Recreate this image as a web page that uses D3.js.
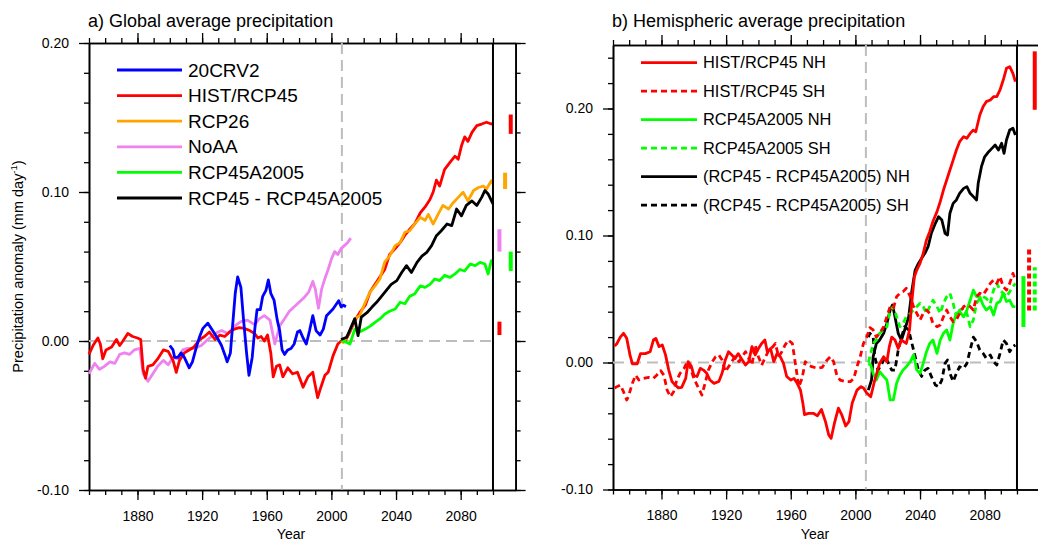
<!DOCTYPE html>
<html>
<head>
<meta charset="utf-8">
<script src="https://cdn.jsdelivr.net/npm/d3@7"></script>
<style>
  body { margin: 0; background: #fff; }
  svg text { font-family: "Liberation Sans", Arial, Helvetica, sans-serif; fill: #000; }
</style>
</head>
<body>
<svg id="chart" width="1038" height="543"></svg>
<script>
// ---- data: [year, anomaly (mm/day)] ----

// panel a) global
let cr20 = [[1900,-0.003],[1902,-0.006],[1903,-0.011],[1905,-0.011],[1907,-0.008],[1909,-0.011],[1912,-0.018],[1914,-0.014],[1916.5,-0.004],[1918.5,0.003],[1920.5,0.0085],[1923.5,0.012],[1926.5,0.007],[1930,0.001],[1932,-0.003],[1934,-0.009],[1935.5,-0.014],[1937.5,-0.008],[1939,0.012],[1940.5,0.032],[1942,0.043],[1944,0.036],[1945.5,0.016],[1947.5,-0.008],[1949,-0.023],[1951,-0.011],[1952.5,0.007],[1954,0.021],[1956,0.021],[1957.5,0.030],[1959.5,0.034],[1961,0.041],[1962.5,0.032],[1964.5,0.0275],[1966.5,0.014],[1968,0.007],[1969.5,-0.006],[1971,-0.009],[1973,-0.006],[1975,-0.005],[1977,-0.002],[1979,0.006],[1980.5,0.007],[1982.5,0.002],[1984.5,-0.002],[1986.5,0.007],[1988.5,0.017],[1990.5,0.007],[1993,0.004],[1995,0.008],[1997,0.017],[2001,0.0215],[2004.5,0.027],[2006,0.023],[2007.5,0.024],[2009,0.023]]

let hist = [[1850,-0.009],[1852.5,-0.003],[1855.5,0.002],[1857,-0.002],[1858.5,-0.012],[1860.5,-0.006],[1864,-0.004],[1867,0.001],[1869,-0.003],[1871,0],[1874,0.005],[1877,0.003],[1880,0.002],[1882,0.001],[1883.5,-0.019],[1885,-0.025],[1886.5,-0.017],[1889.5,-0.016],[1892.5,-0.012],[1896,-0.006],[1899,-0.007],[1902,-0.013],[1904,-0.021],[1906,-0.013],[1909,-0.008],[1912,-0.006],[1915,-0.004],[1918.5,0.001],[1921.5,0.003],[1924.5,0.006],[1928,0.001],[1931,0.004],[1934,0.003],[1937,0.006],[1940,0.008],[1943,0.009],[1946,0.0085],[1949.5,0.007],[1952.5,0.005],[1954.5,0.002],[1956.5,0.003],[1958.5,0],[1960.5,0.004],[1962.5,-0.008],[1964,-0.024],[1966,-0.017],[1968,-0.016],[1970,-0.024],[1973,-0.018],[1976,-0.022],[1979,-0.021],[1982.5,-0.031],[1985.5,-0.024],[1988.5,-0.021],[1989.5,-0.027],[1991.5,-0.038],[1993.5,-0.031],[1996,-0.023],[1998,-0.021],[2001,-0.010],[2004,-0.002],[2006,0.0],[2008.5,0],[2011.5,0.006],[2014.5,0.0136],[2017.5,0.019],[2021,0.024],[2024,0.033],[2027,0.038],[2030,0.043],[2033,0.048],[2036,0.058],[2039.5,0.062],[2042.5,0.066],[2045.5,0.071],[2048.5,0.075],[2051.5,0.0785],[2055,0.086],[2058,0.090],[2061,0.095],[2063,0.100],[2065,0.108],[2067,0.104],[2070,0.115],[2073.5,0.120],[2076.5,0.124],[2078.5,0.122],[2080.5,0.131],[2082.5,0.137],[2084.5,0.134],[2087,0.140],[2090,0.1445],[2093,0.1456],[2096,0.1468],[2099,0.1456],[2100,0.146]]

let rcp26 = [[2006,0],[2007.5,-0.001],[2011.5,0.007],[2014.5,0.0148],[2017.5,0.017],[2021,0.026],[2024,0.033],[2027,0.037],[2030,0.0416],[2033,0.053],[2036,0.057],[2039.5,0.064],[2042.5,0.066],[2045.5,0.073],[2048.5,0.074],[2051.5,0.0785],[2055,0.083],[2058,0.081],[2060,0.085],[2063,0.0785],[2066,0.085],[2069,0.091],[2072.5,0.0886],[2075.5,0.093],[2078.5,0.0964],[2081.5,0.0998],[2084.5,0.094],[2088,0.101],[2091,0.103],[2094,0.104],[2096,0.102],[2099,0.1076],[2100,0.106]]

let noaa = [[1850,-0.022],[1853.5,-0.015],[1856.5,-0.019],[1859.5,-0.017],[1863,-0.014],[1866,-0.015],[1869,-0.009],[1872,-0.008],[1875,-0.009],[1878,-0.006],[1881.5,-0.005],[1883.5,-0.022],[1886.5,-0.027],[1889.5,-0.022],[1892.5,-0.017],[1896,-0.013],[1899,-0.016],[1902,-0.011],[1905,-0.012],[1908,-0.006],[1911,-0.005],[1915,-0.005],[1919.5,-0.003],[1923.5,0.001],[1928,0.005],[1932,0.007],[1936,0.005],[1940,0.010],[1944,0.013],[1948,0.014],[1952.5,0.011],[1955.5,0.015],[1958.5,0.017],[1962,0.014],[1965,-0.002],[1968,0.010],[1971,0.015],[1974,0.020],[1977,0.023],[1980,0.026],[1983,0.029],[1986,0.033],[1988.5,0.040],[1990,0.035],[1992,0.022],[1994,0.035],[1996,0.042],[1998,0.048],[2000,0.055],[2002,0.060],[2004,0.058],[2006,0.062],[2008,0.064],[2010,0.066],[2012,0.069]]

let a2005 = [[2006,0],[2007.5,0],[2011.5,-0.002],[2014.5,0.008],[2017.5,0.006],[2021,0.008],[2024,0.010],[2027,0.0125],[2030,0.0148],[2033,0.018],[2036,0.020],[2039.5,0.0215],[2042.5,0.026],[2045.5,0.025],[2048.5,0.030],[2051.5,0.0315],[2055,0.037],[2058,0.036],[2061,0.038],[2064,0.0416],[2067,0.0405],[2070,0.044],[2073.5,0.0427],[2076.5,0.045],[2079.5,0.048],[2082.5,0.047],[2086,0.0517],[2089,0.0506],[2092,0.0528],[2095,0.0517],[2097,0.045],[2099,0.054],[2100,0.054]]

let diff = [[2006,0.001],[2009.5,0.0025],[2012.5,0.010],[2014.5,0.015],[2016.5,0.0036],[2018.5,0.016],[2022,0.019],[2025,0.0226],[2028,0.026],[2031,0.030],[2034,0.034],[2037,0.038],[2040.5,0.0405],[2043.5,0.046],[2046.5,0.0506],[2049.5,0.046],[2053,0.0528],[2056,0.057],[2059,0.0595],[2062,0.064],[2065,0.0707],[2068,0.074],[2071.5,0.0785],[2074.5,0.0774],[2077.5,0.0886],[2080.5,0.084],[2083.5,0.091],[2087,0.094],[2090,0.091],[2093,0.0964],[2095,0.101],[2097,0.0987],[2100,0.092]]

// ranges at the right of panel a): [x slot (year), low, high]
let barsA = [[2111,0.139,0.152,"red"],[2107.5,0.102,0.113,"orange"],[2104,0.060,0.075,"violet"],[2111,0.047,0.060,"#00ff00"],[2104,0.004,0.013,"red"]]

// panel b) hemispheres
let nhHist = [[1851,0.013],[1852.5,0.015],[1854.5,0.020],[1856.5,0.023],[1858.5,0.019],[1860.5,0.006],[1862,-0.001],[1865,-0.001],[1867,0.007],[1870,0.007],[1873,0.0085],[1875,0.0177],[1876.5,0.019],[1878.5,0.0125],[1880.5,0.0138],[1882.5,0.006],[1884.5,-0.006],[1886.5,-0.015],[1888.5,-0.0177],[1890.5,-0.020],[1892.5,-0.0196],[1895,-0.0125],[1896.5,0.0007],[1898.5,-0.003],[1900,-0.010],[1902,-0.011],[1904,-0.0046],[1906,-0.006],[1908,-0.0085],[1910,-0.0138],[1912.5,-0.0164],[1915.5,-0.015],[1917.5,-0.0085],[1919.5,0.002],[1921.5,0.0085],[1923.5,0.006],[1925.5,0.003],[1927.5,0.007],[1929.5,0.003],[1932,-0.002],[1934,0.0007],[1936,0.0125],[1938,0.006],[1940,0.011],[1942,0.015],[1944,0.0177],[1945.5,0.0085],[1947.5,0.011],[1949.5,0.0007],[1951.5,0.007],[1953.5,0.0046],[1955.5,-0.0007],[1957.5,-0.011],[1960,-0.0138],[1962,-0.0125],[1964,-0.0164],[1966,-0.0217],[1967.5,-0.032],[1968.5,-0.041],[1971,-0.040],[1974,-0.040],[1976.5,-0.042],[1979,-0.037],[1981.5,-0.0466],[1983.5,-0.057],[1985,-0.0597],[1987,-0.048],[1989.5,-0.036],[1991.5,-0.041],[1994,-0.050],[1996,-0.0466],[1998,-0.032],[2001,-0.0217],[2003.5,-0.019],[2005,-0.020],[2007,-0.024],[2009.5,-0.027],[2012,-0.0138],[2015,-0.0007],[2017.5,0.0046],[2019.5,0.0007],[2021,0.0125],[2022.5,0.020],[2024.5,0.0177],[2026.5,0.011],[2028.5,0.0177],[2031.5,0.015],[2033.5,0.0256],[2035,0.049],[2036.5,0.0676],[2038,0.0728],[2040,0.078],[2042,0.086],[2044,0.0965],[2046,0.103],[2048,0.111],[2050.5,0.1188],[2052.5,0.1266],[2054.5,0.1358],[2056.5,0.1437],[2058.5,0.1516],[2060.5,0.1594],[2062.5,0.1673],[2064.5,0.1739],[2067,0.1778],[2069,0.1765],[2071,0.1804],[2073,0.183],[2074.5,0.1817],[2077,0.1949],[2079,0.2014],[2081,0.2054],[2083.5,0.2067],[2085.5,0.2093],[2087.5,0.2093],[2089.5,0.2146],[2091.5,0.2224],[2093.5,0.2316],[2095.5,0.2329],[2097.5,0.2277],[2099,0.2211]]

let shHist = [[1851,-0.020],[1852.5,-0.019],[1854.5,-0.0177],[1856.5,-0.023],[1858.5,-0.0295],[1859.5,-0.027],[1862,-0.0164],[1864,-0.010],[1866,-0.0138],[1869,-0.0125],[1872,-0.0117],[1875,-0.0125],[1877,-0.010],[1879.5,-0.0064],[1881.5,-0.010],[1883.5,-0.0217],[1885.5,-0.027],[1887.5,-0.023],[1889.5,-0.0138],[1891.5,-0.0085],[1894,-0.0046],[1896,0.0007],[1898,-0.0046],[1900,-0.0125],[1902.5,-0.019],[1905,-0.0256],[1907,-0.0164],[1909,-0.006],[1911.5,0.0007],[1913.5,0.0046],[1915.5,0.006],[1917.5,0.002],[1919.5,-0.0072],[1921.5,-0.0033],[1923.5,0.0007],[1925.5,0.0046],[1928,0.0007],[1930,0.0046],[1932,0.0085],[1934,0.0033],[1936,-0.002],[1938,0.0138],[1940,0.0046],[1942,-0.002],[1944.5,0.0046],[1946.5,0.010],[1949,0.0125],[1950.5,0.015],[1952.5,0.0046],[1954.5,0.0085],[1956.5,0.0138],[1958.5,0.0177],[1961,0.015],[1963,-0.002],[1965,-0.019],[1967,-0.0125],[1969,0.0007],[1971,-0.002],[1973,-0.0033],[1976.5,-0.0046],[1979.5,-0.0038],[1982.5,0.002],[1984.5,0.0046],[1986.5,0.0007],[1988.5,-0.010],[1990.5,-0.0138],[1994,-0.015],[1997,-0.015],[1999,-0.0125],[2001,-0.0033],[2003,0.0046],[2005,0.015],[2007,0.020],[2009,0.0275],[2011,0.0256],[2013,0.020],[2015,0.023],[2017.5,0.0282],[2019.5,0.036],[2021.5,0.044],[2023.5,0.0427],[2025.5,0.0518],[2027.5,0.0545],[2029.5,0.0558],[2031.5,0.0584],[2034,0.0518],[2036,0.044],[2038,0.0387],[2040,0.0335],[2042,0.0387],[2044,0.0413],[2046,0.0387],[2048,0.0308],[2050.5,0.0282],[2052.5,0.0295],[2054.5,0.036],[2056.5,0.0413],[2058.5,0.036],[2060.5,0.0322],[2062.5,0.0335],[2064.5,0.0387],[2067,0.044],[2069,0.0453],[2071,0.044],[2073,0.0413],[2075,0.0518],[2077,0.0545],[2079,0.0532],[2081,0.057],[2083.5,0.0623],[2085.5,0.065],[2087.5,0.0623],[2089.5,0.0676],[2091.5,0.0597],[2093.5,0.057],[2095.5,0.0623],[2097.5,0.0702],[2099,0.065]]

let nhA2005 = [[2008,-0.001],[2009.5,-0.002],[2011,-0.0085],[2013,-0.0138],[2015,-0.0072],[2017.5,-0.011],[2019.5,-0.0138],[2021.5,-0.0295],[2023.5,-0.0295],[2025.5,-0.0164],[2027.5,-0.010],[2029.5,-0.006],[2031.5,-0.0033],[2034,0.0007],[2036,0.006],[2038,-0.006],[2040,-0.0085],[2042,-0.0007],[2044,0.0085],[2046,0.015],[2048,0.0177],[2050.5,0.0072],[2052.5,0.0177],[2054.5,0.023],[2056.5,0.0256],[2058.5,0.0177],[2060.5,0.0308],[2062.5,0.0387],[2064.5,0.040],[2067,0.036],[2069,0.0413],[2071,0.049],[2073,0.057],[2075,0.0518],[2077,0.0518],[2079,0.0453],[2081,0.0413],[2083.5,0.044],[2085.5,0.0374],[2087.5,0.0466],[2089.5,0.048],[2091.5,0.0545],[2093.5,0.048],[2095.5,0.049],[2097.5,0.044],[2099,0.044]]

let shA2005 = [[2008,0.000],[2009,0.0046],[2011,0.015],[2013,0.0177],[2015,0.023],[2017.5,0.0256],[2019.5,0.0282],[2021.5,0.0413],[2023.5,0.044],[2025.5,0.036],[2027.5,0.0282],[2029.5,0.0308],[2031.5,0.036],[2034,0.0387],[2036,0.0413],[2038,0.044],[2040,0.0466],[2042,0.044],[2044,0.0387],[2046,0.044],[2048,0.049],[2050.5,0.044],[2052.5,0.0387],[2054.5,0.0466],[2056.5,0.0518],[2058.5,0.0545],[2060.5,0.0466],[2062.5,0.036],[2064.5,0.0413],[2067,0.0427],[2069,0.0387],[2071,0.0282],[2073,0.0335],[2075,0.0466],[2077,0.0505],[2079,0.0518],[2081,0.0505],[2083.5,0.0466],[2085.5,0.057],[2087.5,0.0623],[2089.5,0.057],[2091.5,0.0545],[2093.5,0.0518],[2095.5,0.0558],[2097.5,0.0597],[2099,0.0623]]

let nhDiff = [[2008,-0.0217],[2010,-0.0138],[2011,0.0046],[2013,0.015],[2015,0.0177],[2017.5,0.023],[2019.5,0.0308],[2021.5,0.0413],[2023,0.0453],[2024.5,0.036],[2026.5,0.023],[2028.5,0.0177],[2030.5,0.0256],[2033,0.036],[2035,0.057],[2037,0.0728],[2039,0.078],[2041,0.082],[2043,0.086],[2045,0.0912],[2047,0.1017],[2049.5,0.1096],[2051.5,0.1148],[2053.5,0.1122],[2055.5,0.1017],[2057,0.1004],[2058.5,0.1175],[2060.5,0.1253],[2062.5,0.128],[2064.5,0.1332],[2067,0.1371],[2069,0.1385],[2071,0.1332],[2073,0.1306],[2075,0.128],[2076,0.1411],[2078,0.1542],[2080,0.162],[2082.5,0.166],[2084.5,0.1686],[2086.5,0.1712],[2088.5,0.1673],[2090.5,0.1726],[2092,0.1647],[2093.5,0.1752],[2095.5,0.1831],[2097.5,0.1844],[2099,0.1791]]

let shDiff = [[2008,0.020],[2009,0.023],[2011,0.020],[2012,0.0046],[2014,-0.006],[2016.5,-0.0007],[2018.5,0.0046],[2020.5,-0.0007],[2022.5,-0.006],[2024.5,-0.006],[2026.5,0.0098],[2028.5,0.020],[2030.5,0.0282],[2033,0.0256],[2035,0.015],[2037,0.0046],[2039,-0.006],[2041,-0.011],[2043,-0.006],[2045,-0.0046],[2047,-0.011],[2049.5,-0.0177],[2051.5,-0.019],[2053.5,-0.0138],[2055.5,-0.0007],[2057,0.002],[2058.5,-0.0085],[2060.5,-0.015],[2062.5,-0.0085],[2064.5,-0.0033],[2067,-0.0046],[2069,-0.0007],[2071,0.0098],[2073,0.020],[2075,0.0164],[2077,0.0098],[2079,0.0072],[2081,0.0033],[2083.5,0.0059],[2085.5,0.0007],[2087.5,-0.002],[2089.5,0.0072],[2091.5,0.0177],[2093.5,0.015],[2095.5,0.0085],[2097.5,0.0125],[2099,0.0138]]

// ranges at the right of panel b): [x slot, low, high, colour, dashed]
let barsB = [[2111,0.199,0.245,"red",false],[2107.5,0.041,0.089,"red",true],[2111,0.041,0.075,"#00ff00",true],[2104,0.028,0.068,"#00ff00",false]]

let legendA = [["20CRV2","blue"],["HIST/RCP45","red"],["RCP26","orange"],["NoAA","violet"],["RCP45A2005","#00ff00"],["RCP45 - RCP45A2005","black"]]
let legendB = [["HIST/RCP45 NH","red",false],["HIST/RCP45 SH","red",true],["RCP45A2005 NH","#00ff00",false],["RCP45A2005 SH","#00ff00",true],["(RCP45 - RCP45A2005) NH","black",false],["(RCP45 - RCP45A2005) SH","black",true]]

let yearMinor = d3.range(1850, 2101, 10)
let yearMajor = d3.range(1880, 2081, 40)

// ---- drawing ----
let svg = d3.select("#chart")
let dashSeries = "6,4"

let drawFrame = (x, y, yMinor, yMajor, title) => {
    let top = y.range()[1], bottom = y.range()[0]
    let left = x.range()[0], right = x.range()[1]
    let g = svg.append("g")

    let fmt = (d) => d.toFixed(2)

    // bottom
    g.append("g").attr("transform", "translate(0," + bottom + ")")
        .call(d3.axisBottom(x).tickValues(yearMinor).tickSize(5).tickSizeOuter(0).tickFormat(""))
    g.append("g").attr("transform", "translate(0," + bottom + ")")
        .call(d3.axisBottom(x).tickValues(yearMajor).tickSize(10).tickSizeOuter(0).tickPadding(11).tickFormat(d3.format("d")))
    // top
    g.append("g").attr("transform", "translate(0," + top + ")")
        .call(d3.axisTop(x).tickValues(yearMinor).tickSize(5).tickSizeOuter(0).tickFormat(""))
    g.append("g").attr("transform", "translate(0," + top + ")")
        .call(d3.axisTop(x).tickValues(yearMajor).tickSize(10).tickSizeOuter(0).tickFormat(""))
    // left
    g.append("g").attr("transform", "translate(" + left + ",0)")
        .call(d3.axisLeft(y).tickValues(yMinor).tickSize(5).tickSizeOuter(0).tickFormat(""))
    g.append("g").attr("transform", "translate(" + left + ",0)")
        .call(d3.axisLeft(y).tickValues(yMajor).tickSize(10).tickSizeOuter(0).tickPadding(10).tickFormat(fmt))
    // right
    g.append("g").attr("transform", "translate(" + right + ",0)")
        .call(d3.axisRight(y).tickValues(yMinor).tickSize(5).tickSizeOuter(0).tickFormat(""))
    g.append("g").attr("transform", "translate(" + right + ",0)")
        .call(d3.axisRight(y).tickValues(yMajor).tickSize(10).tickSizeOuter(0).tickFormat(""))

    g.selectAll(".domain").attr("stroke", "#000").attr("stroke-width", 1.6)
    g.selectAll(".tick line").attr("stroke", "#000").attr("stroke-width", 1.3)
    g.selectAll(".tick text").attr("font-size", 14).attr("font-family", null)

    // year label, centred on 1850-2100
    svg.append("text")
        .attr("x", (x(1850) + x(2100)) / 2).attr("y", 539)
        .attr("text-anchor", "middle").attr("font-size", 14)
        .text("Year")

    svg.append("text")
        .attr("x", left - 1).attr("y", 27)
        .attr("font-size", 18)
        .text(title)

    // reference lines
    svg.append("line")
        .attr("x1", x(1850)).attr("x2", x(2100)).attr("y1", y(0)).attr("y2", y(0))
        .attr("stroke", "#bdbdbd").attr("stroke-width", 2).attr("stroke-dasharray", "11,6")
    svg.append("line")
        .attr("x1", x(2006.5)).attr("x2", x(2006.5)).attr("y1", top).attr("y2", bottom)
        .attr("stroke", "#bdbdbd").attr("stroke-width", 2).attr("stroke-dasharray", "11,6")
}

let drawSeries = (x, y, data, color, dashed) => {
    let line = d3.line().x((d) => x(d[0])).y((d) => y(d[1]))
    svg.append("path")
        .datum(data)
        .attr("d", line)
        .attr("fill", "none")
        .attr("stroke", color)
        .attr("stroke-width", 2.8)
        .attr("stroke-linejoin", "round")
        .attr("stroke-dasharray", dashed ? dashSeries : null)
}

let drawEnd = (x, y) => {
    svg.append("line")
        .attr("x1", x(2100)).attr("x2", x(2100))
        .attr("y1", y.range()[1]).attr("y2", y.range()[0])
        .attr("stroke", "#000").attr("stroke-width", 2)
}

let drawBars = (x, y, bars) => {
    svg.selectAll(null)
        .data(bars).enter().append("line")
        .attr("x1", (d) => x(d[0])).attr("x2", (d) => x(d[0]))
        .attr("y1", (d) => y(d[1])).attr("y2", (d) => y(d[2]))
        .attr("stroke", (d) => d[3])
        .attr("stroke-width", 4)
        .attr("stroke-dasharray", (d) => d[4] ? "5,3" : null)
}

let drawLegend = (items, x0, y0, step, len, fs) => {
    items.forEach((it, i) => {
        let yy = y0 + i * step
        svg.append("line")
            .attr("x1", x0).attr("x2", x0 + len).attr("y1", yy).attr("y2", yy)
            .attr("stroke", it[1]).attr("stroke-width", 2.8)
            .attr("stroke-dasharray", it[2] ? dashSeries : null)
        svg.append("text")
            .attr("x", x0 + len + 6).attr("y", yy).attr("dy", "0.35em")
            .attr("font-size", fs)
            .text(it[0])
    })
}

// panel a
let xA = d3.scaleLinear().domain([1850, 2114]).range([89, 515.6])
let yA = d3.scaleLinear().domain([-0.1, 0.2]).range([490, 43])
drawFrame(xA, yA, d3.range(-5, 11).map((i) => i * 0.02), [-0.1, 0, 0.1, 0.2], "a) Global average precipitation")
drawSeries(xA, yA, noaa, "violet")
drawSeries(xA, yA, hist, "red")
drawSeries(xA, yA, rcp26, "orange")
drawSeries(xA, yA, a2005, "#00ff00")
drawSeries(xA, yA, diff, "black")
drawSeries(xA, yA, cr20, "blue")
drawEnd(xA, yA)
drawBars(xA, yA, barsA)
drawLegend(legendA, 117, 70, 25.6, 65, 19)

// panel b
let xB = d3.scaleLinear().domain([1850, 2114]).range([613, 1039.6])
let yB = d3.scaleLinear().domain([-0.1, 0.25]).range([489.5, 45])
drawFrame(xB, yB, d3.range(-5, 13).map((i) => i * 0.02), [-0.1, 0, 0.1, 0.2], "b) Hemispheric average precipitation")
drawSeries(xB, yB, shDiff, "black", true)
drawSeries(xB, yB, nhDiff, "black")
drawSeries(xB, yB, shA2005, "#00ff00", true)
drawSeries(xB, yB, nhA2005, "#00ff00")
drawSeries(xB, yB, shHist, "red", true)
drawSeries(xB, yB, nhHist, "red")
drawEnd(xB, yB)
drawBars(xB, yB, barsB)
drawLegend(legendB, 641, 62.7, 28.5, 56, 16.4)

// y title (left panel only)
let yt = svg.append("text")
    .attr("transform", "translate(23," + ((yA.range()[0] + yA.range()[1]) / 2) + ") rotate(-90)")
    .attr("text-anchor", "middle")
    .attr("font-size", 14.5)
yt.append("tspan").text("Precipitation anomaly (mm day")
yt.append("tspan").attr("font-size", 9.5).attr("dy", -6).text("-1")
yt.append("tspan").attr("dy", 6).text(")")
</script>
</body>
</html>
